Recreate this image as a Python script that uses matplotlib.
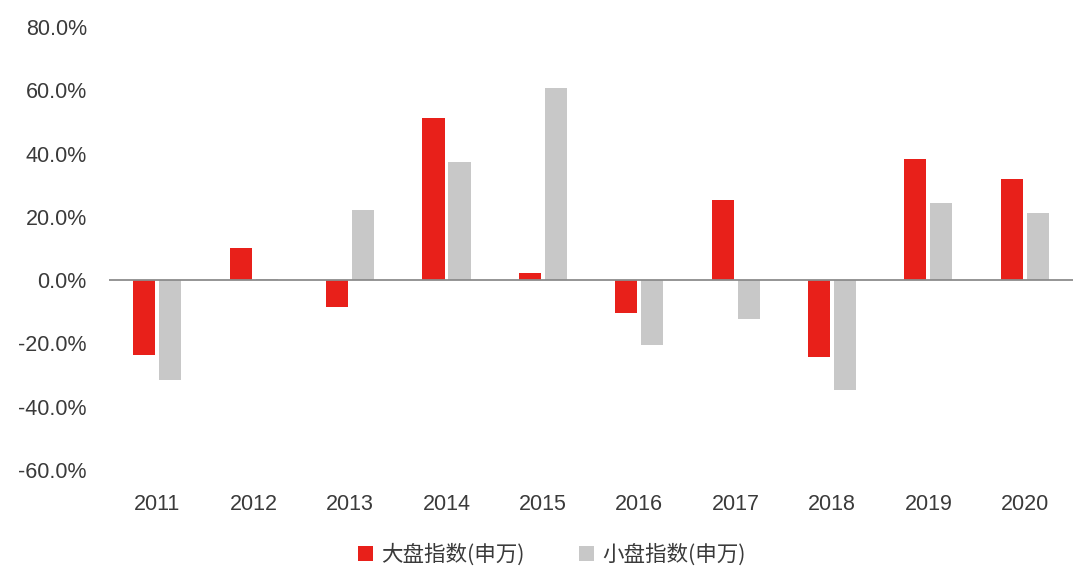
import numpy as np
import matplotlib.pyplot as plt
from matplotlib.ticker import FuncFormatter

plt.rcParams['font.family'] = ['Noto Sans CJK SC', 'DejaVu Sans']

# --- DADOS ---
anos = ["2011", "2012", "2013", "2014", "2015", "2016", "2017", "2018", "2019", "2020"]
grande = [-23.8, 10.1, -8.6, 51.4, 2.3, -10.5, 25.2, -24.2, 38.3, 32.0]
pequeno = [-31.7, 0.3, 22.1, 37.2, 60.6, -20.6, -12.4, -34.8, 24.3, 21.1]
nome_grande = "大盘指数(申万)"
nome_pequeno = "小盘指数(申万)"

fig = plt.figure(figsize=(10.8, 5.81), dpi=100)
ax = fig.add_axes([0.101, 0.191, 0.8925, 0.7625])

x = np.arange(len(anos))
w = 0.23
ax.bar(x - w/2 - 0.02, grande, width=w, color='#e8201a', label=nome_grande)
ax.bar(x + w/2 + 0.02, pequeno, width=w, color='#c8c8c8', label=nome_pequeno)

ax.set_xlim(-0.5, len(anos) - 0.5)
ax.set_ylim(-60, 80)
ax.set_yticks(range(-60, 81, 20))
ax.yaxis.set_major_formatter(FuncFormatter(lambda v, p: f"{v:.1f}%"))
ax.set_xticks(x)
ax.set_xticklabels(anos)

for s in ['top', 'right', 'left', 'bottom']:
    ax.spines[s].set_visible(False)
ax.axhline(0, color='#8c8c8c', lw=1.3, zorder=3)
ax.tick_params(axis='both', length=0, labelsize=15.5, colors='#3a3a3a')
ax.tick_params(axis='x', pad=17)
ax.tick_params(axis='y', pad=16)
for lab in ax.get_xticklabels() + ax.get_yticklabels():
    lab.set_family(['Liberation Sans', 'DejaVu Sans'])

leg = fig.legend(loc='lower center', bbox_to_anchor=(0.511, -0.008), ncol=2, frameon=False,
                 fontsize=15.5, handlelength=0.7, handleheight=0.7, columnspacing=2.5,
                 handletextpad=0.4)
for t in leg.get_texts():
    t.set_color('#3a3a3a')

fig.savefig("out.png", dpi=100)
